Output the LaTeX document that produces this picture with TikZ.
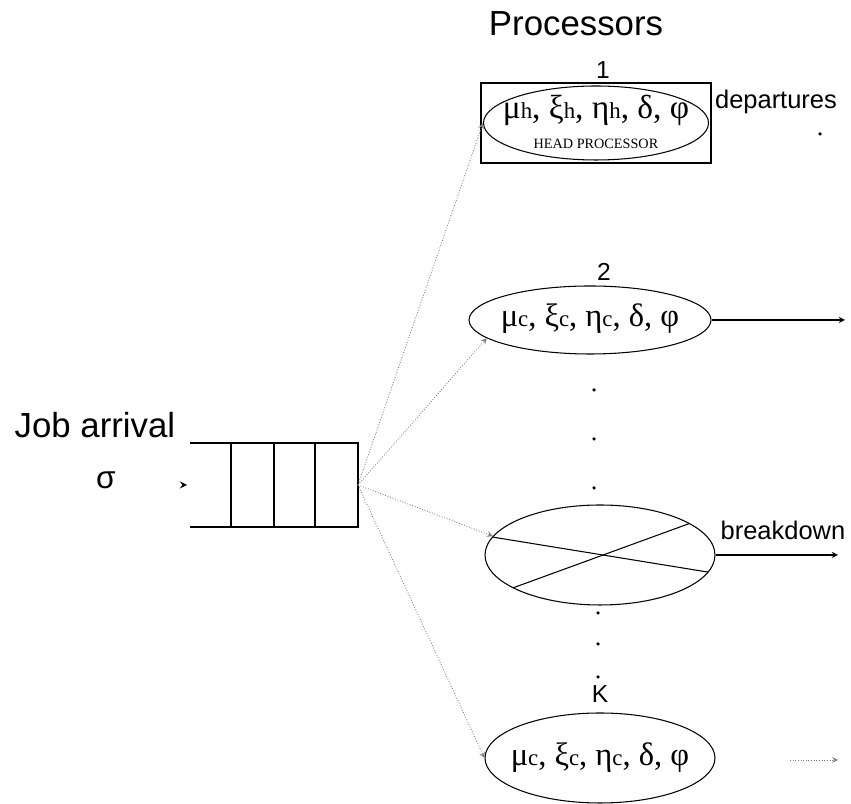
\documentclass[tikz,border=0pt]{standalone}
\usepackage{fontspec}
\setmainfont{Liberation Serif}
\setsansfont{Liberation Sans}
\usetikzlibrary{shapes, arrows, positioning, calc}
\newcommand{\lowsub}[1]{{\fontsize{13}{13}\selectfont #1}}
\tikzset{>=stealth}
\tikzset{proc/.style={draw, ellipse, inner sep=0pt, line width=0.6pt},
	feed/.style={->, gray, densely dotted, line width=0.5pt},
	bigsans/.style={font=\sffamily\fontsize{19.8}{20}\selectfont},
	midsans/.style={font=\sffamily\fontsize{14.5}{15}\selectfont},
	numsans/.style={font=\sffamily\fontsize{14}{14}\selectfont},
	greek/.style={font=\rmfamily\fontsize{18.5}{18.5}\selectfont},
	dot/.style={circle, fill, inner sep=0pt, minimum size=2pt}}

\begin{document}
\begin{tikzpicture}
	\useasboundingbox (0,0) rectangle (17.02,16.08);
	
	\node [bigsans] (title) at (11.52,15.60) {Processors};
	\node [bigsans] (arrival) at (1.90,7.58) {Job arrival};
	\node [font=\sffamily\fontsize{18}{18}\selectfont] (rate) at (2.12,6.48) {σ};
	
	% queue
	\coordinate (qtl) at (3.80,7.22);
	\coordinate (qbl) at (3.80,5.54);
	\coordinate (qtr) at (7.16,7.22);
	\coordinate (qbr) at (7.16,5.54);
	\coordinate (qout) at (7.16,6.38);
	\draw [line width=0.6pt] (qtl) -- (qtr) -- (qbr) -- (qbl);
	\foreach \x in {4.62,5.48,6.30}
		\draw [line width=0.6pt] (\x,7.22) -- (\x,5.54);
	\coordinate (inend) at (3.74,6.38);
	\draw [->, line width=0.8pt] ($(inend)+(-0.06,0)$) -- (inend);
	
	% processors
	\node [numsans] (n1) at (12.06,14.68) {1};
	\node [draw, line width=0.6pt, minimum width=4.6cm, minimum height=1.6cm] (headbox) at (11.92,13.62) {};
	\node [proc, minimum width=4.5cm, minimum height=1.48cm] (p1) at (11.92,13.62) {};
	\node [font=\rmfamily\fontsize{19}{19}\selectfont, align=center, inner sep=0pt] (t1) at (11.92,13.64) {μ\lowsub{h}, ξ\lowsub{h}, η\lowsub{h}, δ, φ\\[-2pt]{\fontsize{8.1}{8.5}\selectfont HEAD PROCESSOR}};
	\node [midsans] (dep) at (15.52,14.04) {departures};
	\node [dot] (depend) at (16.40,13.40) {};
	
	\node [numsans] (n2) at (12.08,10.64) {2};
	\node [proc, minimum width=4.84cm, minimum height=1.36cm] (p2) at (11.80,9.68) {};
	\node [greek] (t2) at (11.80,9.70) {μ\lowsub{c}, ξ\lowsub{c}, η\lowsub{c}, δ, φ};
	\coordinate (out2) at (16.90,9.68);
	\draw [->, line width=0.6pt] (p2.east) -- (out2);
	
	\node [dot] (d1) at (11.88,8.28) {};
	\node [dot] (d2) at (11.88,7.30) {};
	\node [dot] (d3) at (11.88,6.32) {};
	
	\node [proc, minimum width=4.6cm, minimum height=2cm] (p3) at (12.00,4.98) {};
	\draw [line width=0.6pt] ([shift={(159:2.3 and 1)}]p3.center) -- ([shift={(-20:2.3 and 1)}]p3.center);
	\draw [line width=0.6pt] ([shift={(221:2.3 and 1)}]p3.center) -- ([shift={(39:2.3 and 1)}]p3.center);
	\node [midsans] (brk) at (15.66,5.48) {breakdown};
	\coordinate (out3) at (16.76,4.98);
	\draw [->, line width=0.6pt] (p3.east) -- (out3);
	
	\node [dot] (d4) at (11.96,3.82) {};
	\node [dot] (d5) at (11.96,3.20) {};
	\node [dot] (d6) at (11.96,2.54) {};
	\node [numsans] (nk) at (12.00,2.20) {K};
	
	\node [proc, minimum width=4.6cm, minimum height=1.8cm] (p4) at (12.00,0.92) {};
	\node [greek] (t4) at (12.00,0.92) {μ\lowsub{c}, ξ\lowsub{c}, η\lowsub{c}, δ, φ};
	\coordinate (from4) at (15.80,0.88);
	\coordinate (out4) at (16.76,0.88);
	\draw [feed] (from4) -- (out4);
	
	% routing from the queue
	\draw [feed] (qout) -- (p1.west);
	\draw [feed] (qout) -- (p2.190);
	\draw [feed] (qout) -- (p3.170);
	\draw [feed] (qout) -- (p4.west);

\end{tikzpicture}
\end{document}
